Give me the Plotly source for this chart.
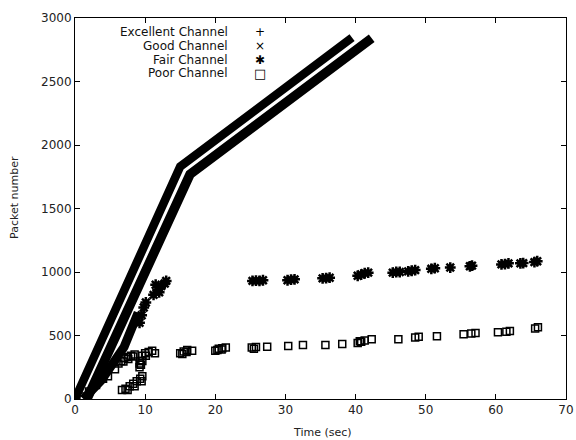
import plotly.graph_objects as go

# ---- data ----
excellent_t = [0.0, 15.0, 39.5]
excellent_pkt = [0, 1830, 2845]

good_t = [1.7, 16.4, 42.3]
good_pkt = [0, 1770, 2840]

fair_band_t = [1.2, 3.8, 7.0, 9.0]
fair_band_pkt = [0, 150, 410, 680]

fair_t = [9.2, 9.5, 9.8, 10.1, 11.2, 11.5, 11.8, 12.3, 12.8, 13.0, 12.0,
          25.3, 25.8, 26.3, 26.8, 30.3, 30.8, 31.3, 35.3, 35.8, 36.3,
          40.3, 40.8, 41.3, 41.8, 45.3, 45.8, 46.3, 47.5, 48.0, 48.5,
          50.8, 51.3, 53.5, 56.3, 56.6, 60.8, 61.3, 61.8, 63.5, 63.9, 65.5, 65.9]
fair_pkt = [600, 660, 720, 760, 820, 900, 860, 890, 910, 930, 840,
            930, 932, 930, 935, 935, 940, 942, 950, 952, 955,
            970, 980, 990, 995, 995, 1000, 1000, 1005, 1010, 1015,
            1025, 1030, 1035, 1045, 1050, 1060, 1062, 1068, 1068, 1070, 1078, 1085]

poor_t = [0.2, 1.0, 2.0, 3.0, 4.0, 4.7, 5.7,
          6.2, 6.6, 7.0, 7.5, 8.0, 8.5, 6.9, 7.6, 8.3,
          9.2, 9.2, 9.3, 9.6, 10.0, 10.5, 11.0, 11.4, 9.6, 10.1, 9.4,
          6.7, 7.2, 7.8, 8.3, 8.8, 9.3, 9.6, 7.5, 8.5, 9.5,
          15.0, 15.5, 16.0, 16.7, 15.3, 15.9,
          20.0, 20.5, 21.0, 21.5, 20.3, 20.9,
          25.2, 25.8, 25.5, 27.4, 30.4, 32.5, 35.7, 38.1,
          40.3, 40.8, 41.3, 42.3, 40.6, 46.1, 48.5, 49.0, 51.6,
          55.4, 56.5, 57.1, 60.3, 61.5, 62.0, 65.6, 66.0]
poor_pkt = [0, 20, 60, 110, 160, 180, 235,
            280, 300, 320, 330, 340, 350, 295, 315, 335,
            250, 280, 300, 340, 360, 370, 380, 360, 300, 340, 270,
            70, 80, 100, 120, 140, 160, 180, 70, 100, 140,
            360, 375, 385, 380, 355, 370,
            380, 395, 400, 405, 385, 390,
            405, 410, 395, 412, 417, 425, 425, 433,
            440, 450, 460, 470, 455, 470, 485, 490, 495,
            510, 515, 520, 525, 530, 535, 555, 565]

series_names = ["Excellent Channel", "Good Channel", "Fair Channel", "Poor Channel"]
legend_symbols = ["+", "×", "✱", "□"]

x_ticks = [0, 10, 20, 30, 40, 50, 60, 70]
y_ticks = [0, 500, 1000, 1500, 2000, 2500, 3000]

x_title = "Time (sec)"
y_title = "Packet number"

FONT = "DejaVu Sans, Verdana, sans-serif"

# ---- figure ----
fig = go.Figure()

fig.add_trace(go.Scatter(x=excellent_t, y=excellent_pkt, mode="lines",
                         line=dict(color="black", width=8.5), name=series_names[0]))
fig.add_trace(go.Scatter(x=good_t, y=good_pkt, mode="lines",
                         line=dict(color="black", width=9.5), name=series_names[1]))
fig.add_trace(go.Scatter(x=fair_band_t, y=fair_band_pkt, mode="lines",
                         line=dict(color="black", width=9), name=series_names[2]))
fig.add_trace(go.Scatter(x=fair_t, y=fair_pkt, mode="markers",
                         marker=dict(symbol="asterisk", size=9,
                                     line=dict(color="black", width=2.5)),
                         name=series_names[2]))
fig.add_trace(go.Scatter(x=poor_t, y=poor_pkt, mode="markers",
                         marker=dict(symbol="square-open", size=7, color="black",
                                     line=dict(color="black", width=1.5)),
                         name=series_names[3]))

# gnuplot-style key: text right-aligned, symbol to the right
key_top = 0.963
key_step = 0.036
for i, (nm, sym) in enumerate(zip(series_names, legend_symbols)):
    yy = key_top - i * key_step
    fig.add_annotation(xref="paper", yref="paper", x=0.316, y=yy, text=nm,
                       showarrow=False, xanchor="right", yanchor="middle",
                       font=dict(family=FONT, size=12, color="#111"))
    fig.add_annotation(xref="paper", yref="paper", x=0.377, y=yy, text=sym,
                       showarrow=False, xanchor="center", yanchor="middle",
                       font=dict(family="DejaVu Sans, sans-serif",
                                 size=12 if sym != "□" else 13, color="black"))

# axis titles placed like the reference
fig.add_annotation(xref="paper", yref="paper", x=0.505, y=-0.087, text=x_title,
                   showarrow=False, xanchor="center", yanchor="middle",
                   font=dict(family=FONT, size=11, color="#222"))
fig.add_annotation(xref="paper", yref="paper", x=-0.122, y=0.528, text=y_title,
                   showarrow=False, textangle=-90, xanchor="center", yanchor="middle",
                   font=dict(family=FONT, size=11, color="#222"))

axis_common = dict(showline=True, linecolor="black", linewidth=1, mirror="ticks",
                   ticks="inside", ticklen=5, tickcolor="black", showgrid=False,
                   zeroline=False, automargin=False,
                   tickfont=dict(family=FONT, size=12, color="#222"))

fig.update_xaxes(range=[0, 70], tickvals=x_ticks, **axis_common)
fig.update_yaxes(range=[0, 3000], tickvals=y_ticks, **axis_common)

fig.update_layout(width=576, height=440,
                  margin=dict(l=75, r=10, t=18, b=41, autoexpand=False),
                  plot_bgcolor="white", paper_bgcolor="white",
                  showlegend=False)

fig.write_html("out.html",
               config={"displayModeBar": False},
               post_script="document.body.style.margin='0';"
                           "document.body.style.overflow='hidden';")
